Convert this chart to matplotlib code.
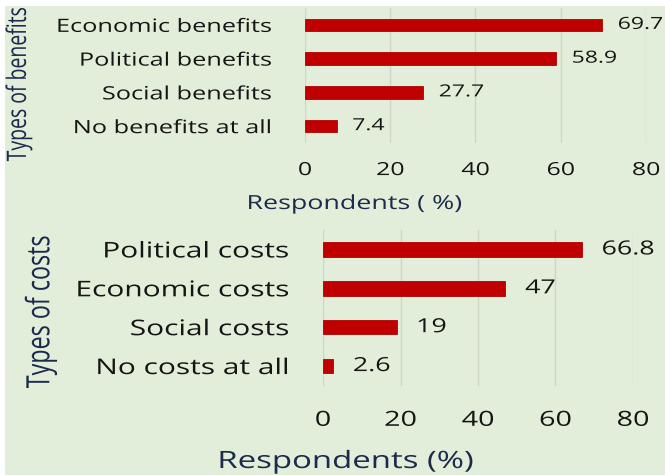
import matplotlib.pyplot as plt
from matplotlib.patches import Rectangle
from matplotlib.patheffects import AbstractPathEffect
from matplotlib.transforms import Affine2D

# data
benefit_types = ["Economic benefits", "Political benefits", "Social benefits", "No benefits at all"]
benefit_pct = [69.7, 58.9, 27.7, 7.4]
benefit_labels = ["69.7", "58.9", "27.7", "7.4"]

cost_types = ["Political costs", "Economic costs", "Social costs", "No costs at all"]
cost_pct = [66.8, 47, 19, 2.6]
cost_labels = ["66.8", "47", "19", "2.6"]

x_ticks = [0, 20, 40, 60, 80]

BG = "#e2eed9"
BAR = "#c00000"
GRID = "#cfd6c9"
NAVY = "#1c2a4c"
INK = "#151515"
W, H = 665, 477
SX = 1.38  # the source image is stretched sideways


class Widen(AbstractPathEffect):
    """stretch the glyphs of a text along x (or glyph-y for rotated text)"""

    def __init__(self, sx=SX, anchor=0.0, along="x"):
        super().__init__()
        self.sx, self.anchor, self.along = sx, anchor, along

    def draw_path(self, renderer, gc, tpath, affine, rgbFace=None):
        ext = tpath.get_extents()
        if self.along == "x":
            c = ext.x0 + self.anchor * ext.width
            pre = Affine2D().translate(-c, 0).scale(self.sx, 1).translate(c, 0)
        else:
            c = ext.y0 + self.anchor * ext.height
            pre = Affine2D().translate(0, -c).scale(1, self.sx).translate(0, c)
        renderer.draw_path(gc, tpath, pre + affine, rgbFace)


plt.rcParams['font.family'] = ['Open Sans', 'DejaVu Sans']

fig = plt.figure(figsize=(W / 100, H / 100), dpi=100)
fig.patch.set_facecolor("white")
fig.patches.append(Rectangle((5 / W, 1 / H), 1, (H - 8) / H, transform=fig.transFigure,
                             facecolor=BG, edgecolor="none", zorder=-5))


def px_axes(left, right, top, bottom):
    return fig.add_axes([left / W, 1 - bottom / H, (right - left) / W, (bottom - top) / H])


def panel(ax, cats, vals, labels, cat_fs, val_fs, tick_fs, off, cat_pad, tick_pad):
    ax.set_facecolor("none")
    y = list(range(len(cats)))
    ax.barh(y, vals, height=0.37, color=BAR, edgecolor="#b00000", linewidth=0.6, zorder=3)
    for yi, v, lab in zip(y, vals, labels):
        ax.annotate(lab, (v, yi), xytext=(off, 0), textcoords="offset points",
                    va="center", ha="left", fontsize=val_fs, color=INK,
                    annotation_clip=False, path_effects=[Widen(anchor=0.0)])
    ax.set_yticks(y)
    ax.set_yticklabels(cats, fontsize=cat_fs, color=INK)
    ax.set_ylim(len(cats) - 0.5, -0.5)
    ax.set_xlim(0, 80)
    ax.set_xticks(x_ticks)
    ax.set_xticklabels([str(t) for t in x_ticks], fontsize=tick_fs, color=INK)
    ax.xaxis.grid(True, color=GRID, linewidth=1, zorder=0)
    ax.tick_params(length=0)
    ax.tick_params(axis="y", pad=cat_pad)
    ax.tick_params(axis="x", pad=tick_pad)
    for t in ax.get_yticklabels():
        t.set_path_effects([Widen(anchor=1.0)])
    for t in ax.get_xticklabels():
        t.set_path_effects([Widen(anchor=0.5)])
    for s in ax.spines.values():
        s.set_visible(False)


def xlabel(ax, text, fs, cx_px, base_px, left, right, top, bottom):
    ax.set_xlabel(text, fontsize=fs, color=NAVY, path_effects=[Widen(anchor=0.5)])
    ax.xaxis.set_label_coords((cx_px - left) / (right - left), (bottom - base_px) / (bottom - top))
    ax.xaxis.label.set_va("baseline")


# top panel: benefits
L1, R1, T1, B1 = 305, 646, 9, 144
ax1 = px_axes(L1, R1, T1, B1)
panel(ax1, benefit_types, benefit_pct, benefit_labels, 13.2, 12.0, 13.0, 11.5, 24, 13)
xlabel(ax1, "Respondents ( %)", 14.0, 355, 210, L1, R1, T1, B1)

# bottom panel: costs
L2, R2, T2, B2 = 323, 633, 231, 386.5
ax2 = px_axes(L2, R2, T2, B2)
panel(ax2, cost_types, cost_pct, cost_labels, 15.6, 14.0, 15.0, 14.5, 24.5, 17.5)
xlabel(ax2, "Respondents (%)", 17.2, 346, 469, L2, R2, T2, B2)

fig.text(19 / W, 1 - 85 / H, "Types of benefits", rotation=90, ha="center", va="center",
         fontsize=14, color=NAVY, path_effects=[Widen(anchor=0.5, along="y")])
fig.text(41 / W, 1 - 313 / H, "Types of costs", rotation=90, ha="center", va="center",
         fontsize=16.8, color=NAVY, path_effects=[Widen(anchor=0.5, along="y")])

fig.savefig("out.png", dpi=100)
